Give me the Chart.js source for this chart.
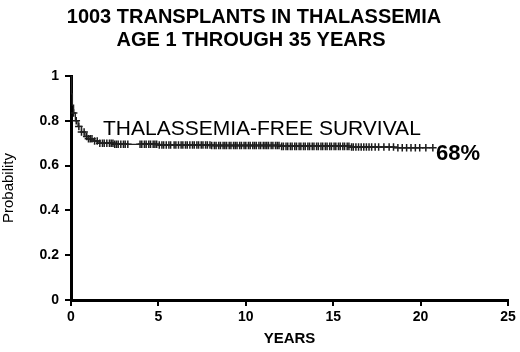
<!DOCTYPE html>
<html>
<head>
<meta charset="utf-8">
<script src="https://cdn.jsdelivr.net/npm/chart.js@4.4.1/dist/chart.umd.min.js"></script>
<style>
  html, body { margin: 0; padding: 0; background: #fff; }
  #wrap { width: 520px; height: 352px; }
</style>
</head>
<body>
<div id="wrap"><canvas id="km"></canvas></div>
<script>
const ctx = document.getElementById('km');

// Kaplan-Meier curve (years, probability)
const curveYears = [0, 0.03, 0.08, 0.15, 0.25, 0.4, 0.6, 0.8, 1.0, 1.3, 1.6, 2.5, 5, 8, 12, 16, 18.5];
const curveProb  = [1.0, 0.92, 0.87, 0.835, 0.80, 0.775, 0.75, 0.73, 0.72, 0.71, 0.70, 0.695, 0.692, 0.69, 0.686, 0.683, 0.68];
const curveEnd = 20.7;

// censored patients (years)
const censorYears = [
  0.15, 0.3, 0.45, 0.6, 0.75, 0.9, 1.0, 1.1, 1.2, 1.35, 1.5,
  1.65, 1.8, 1.9, 2.05, 2.2, 2.3, 2.4, 2.5, 2.6, 2.7, 2.85, 3.0, 3.1, 3.25,
  3.95, 4.05, 4.2, 4.3, 4.45, 4.55, 4.7, 4.8, 4.9, 5.05, 5.2, 5.3, 5.45, 5.6, 5.7, 5.9, 6.0, 6.15, 6.3, 6.4,
  6.55, 6.65, 6.8, 6.95, 7.05, 7.2, 7.3, 7.45, 7.55, 7.7, 7.8, 7.95, 8.05, 8.2, 8.3, 8.45, 8.55, 8.7, 8.8, 8.9,
  9.05, 9.15, 9.3, 9.4, 9.5, 9.65, 9.75, 9.9, 10.0, 10.15, 10.25, 10.4, 10.5, 10.6, 10.75, 10.85, 11.0, 11.1, 11.2, 11.3,
  11.45, 11.55, 11.7, 11.8, 11.9, 12.05, 12.15, 12.3, 12.4, 12.55, 12.65, 12.8, 12.9, 13.05, 13.15, 13.3, 13.4, 13.55, 13.65, 13.8,
  13.9, 14.05, 14.15, 14.3, 14.4, 14.55, 14.65, 14.8, 14.9, 15.05, 15.15, 15.3, 15.4, 15.55, 15.65, 15.8, 15.9, 16.05, 16.15, 16.3,
  16.45, 16.6, 16.75, 16.9, 17.05, 17.2, 17.4, 17.6,
  17.9, 18.2, 18.45, 18.7, 18.95, 19.2, 19.45, 19.7, 19.95, 20.3, 20.7
];

const xTicks = [0, 5, 10, 15, 20, 25];
const yTicks = [0, 0.2, 0.4, 0.6, 0.8, 1];

const titleLines = ['1003 TRANSPLANTS IN THALASSEMIA', 'AGE 1 THROUGH 35 YEARS'];
const curveLabel = 'THALASSEMIA-FREE SURVIVAL';
const endLabel = '68%';

// survival value at a given time (step lookup in the curve arrays)
function probAt(t) {
  let p = curveProb[0];
  for (let i = 0; i < curveYears.length; i++) {
    if (curveYears[i] <= t) p = curveProb[i];
  }
  return p;
}

const font = 'Liberation Sans, Arial, sans-serif';

const curvePoints = curveYears.map((t, i) => ({ x: t, y: curveProb[i] }));
curvePoints.push({ x: curveEnd, y: probAt(curveEnd) });

const textPlugin = {
  id: 'texts',
  afterDraw(chart) {
    const c = chart.ctx;
    c.save();
    c.fillStyle = '#000';
    c.textAlign = 'center';
    c.textBaseline = 'alphabetic';
    c.font = 'bold 20px ' + font;
    c.fillText(titleLines[0], 254, 23);
    c.fillText(titleLines[1], 251, 46);
    c.textAlign = 'left';
    c.font = '21px ' + font;
    c.fillText(curveLabel, 103, 135);
    c.font = 'bold 22px ' + font;
    c.fillText(endLabel, 436, 160);
    c.restore();
  }
};

new Chart(ctx, {
  type: 'scatter',
  data: {
    datasets: [
      {
        type: 'line',
        data: curvePoints,
        stepped: 'before',
        borderColor: '#222',
        borderWidth: 1.3,
        pointRadius: 0,
        fill: false
      },
      {
        data: censorYears.map(t => ({ x: t, y: probAt(t) })),
        pointStyle: 'cross',
        pointRadius: 3.8,
        borderColor: '#1a1a1a',
        borderWidth: 1.5,
        backgroundColor: '#1a1a1a'
      }
    ]
  },
  options: {
    responsive: true,
    maintainAspectRatio: false,
    animation: false,
    layout: { padding: { top: 76, right: 12, left: 0, bottom: 0 } },
    plugins: { legend: { display: false }, tooltip: { enabled: false } },
    scales: {
      x: {
        type: 'linear',
        min: 0, max: 25,
        afterBuildTicks: s => { s.ticks = xTicks.map(v => ({ value: v })); },
        afterFit: s => { s.height = 52; },
        border: { color: '#000', width: 3 },
        grid: { drawOnChartArea: false, color: '#000', lineWidth: 2, tickLength: 6 },
        ticks: { color: '#000', font: { family: font, size: 14, weight: 'bold' }, padding: 3, maxRotation: 0, callback: v => String(v) },
        title: { display: true, text: 'YEARS', color: '#000', font: { family: font, size: 15, weight: 'bold' }, padding: { top: 4 } }
      },
      y: {
        type: 'linear',
        min: 0, max: 1,
        afterBuildTicks: s => { s.ticks = yTicks.map(v => ({ value: v })); },
        afterFit: s => { s.width = 71; },
        border: { color: '#000', width: 3 },
        grid: { drawOnChartArea: false, color: '#000', lineWidth: 2, tickLength: 6 },
        ticks: { color: '#000', font: { family: font, size: 14, weight: 'bold' }, padding: 6, callback: v => String(v) },
        title: { display: true, text: 'Probability', color: '#000', font: { family: font, size: 15 }, padding: { top: 0, bottom: 6 } }
      }
    }
  },
  plugins: [textPlugin]
});
</script>
</body>
</html>
